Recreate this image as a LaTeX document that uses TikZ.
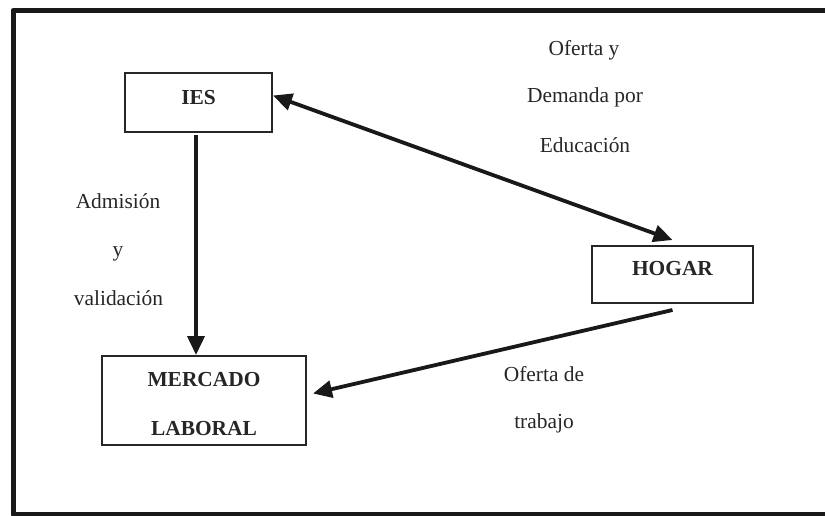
\documentclass[tikz,border=0pt]{standalone}
\usepackage{fontspec}
\setmainfont{Liberation Serif}
\usetikzlibrary{arrows.meta}
\begin{document}
\begin{tikzpicture}[x=1pt,y=-1pt,
  every node/.style={font=\fontsize{21.4}{26}\selectfont, text=black!85},
  box/.style={draw=black!85, line width=2pt, inner sep=0pt, font=\fontsize{21.4}{26}\selectfont\bfseries},
  lbl/.style={inner sep=0pt, anchor=base},
  arr/.style={line width=3.8pt, draw=black!90, -{Triangle[length=19pt,width=17pt]}},
  darr/.style={line width=3.8pt, draw=black!90, {Triangle[length=19pt,width=17pt]}-{Triangle[length=19pt,width=17pt]}},
  frame/.style={line width=5pt, draw=black!90, line join=round}]
\useasboundingbox (0,0) rectangle (825,516);
% frame
\draw[frame] (826,10.5) -- (13,10.5) -- (13,514.5) -- (826,514.5);
% boxes
\node[box, minimum width=147pt, minimum height=59pt, text depth=10pt] (ies) at (198.5,102.5) {IES};
\node[box, minimum width=161pt, minimum height=57pt, text depth=12pt] (hogar) at (672.5,274.5) {HOGAR};
\node[box, minimum width=204pt, minimum height=89pt, align=center] (mercado) at (204,400.5) {\rule{0pt}{22pt}MERCADO\\[23pt]LABORAL};
% labels
\node[lbl] (l1) at (584,56) {Oferta y};
\node[lbl] (l2) at (585,103) {Demanda por};
\node[lbl] (l3) at (585,153) {Educación};
\node[lbl] (l4) at (118,208) {Admisión};
\node[lbl] (l5) at (118,256) {y};
\node[lbl] (l6) at (118.5,305) {validación};
\node[lbl] (l7) at (544,381) {Oferta de};
\node[lbl] (l8) at (544,428) {trabajo};
% connectors
\draw[darr] ([yshift=7pt]ies.east) -- ([yshift=5pt]hogar.north);
\draw[arr] ([xshift=-2.5pt,yshift=-2pt]ies.south) -- ([xshift=-2.5pt]ies.south |- mercado.north);
\draw[arr] ([yshift=-6pt]hogar.south) -- ([xshift=6pt,yshift=7pt]mercado.east);
\end{tikzpicture}
\end{document}
